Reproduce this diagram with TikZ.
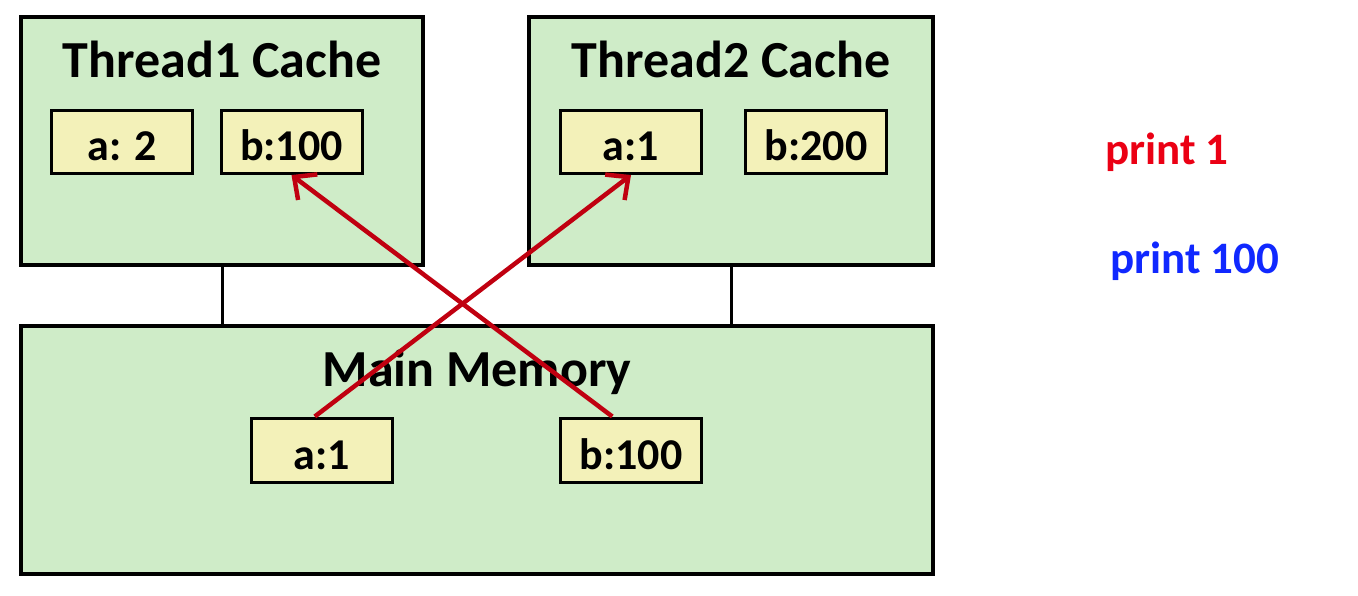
\documentclass[tikz,border=0pt]{standalone}
\usepackage{fontspec}
\setmainfont{Carlito}
\usetikzlibrary{arrows.meta,calc}
\definecolor{boxgreen}{RGB}{207,236,200}
\definecolor{boxyellow}{RGB}{243,241,185}
\definecolor{arrowred}{RGB}{192,0,16}
\definecolor{txtred}{RGB}{235,0,20}
\definecolor{txtblue}{RGB}{16,40,255}
\tikzset{
  bigbox/.style={draw=black, fill=boxgreen, line width=4bp, inner sep=0pt, minimum width=#1, minimum height=248bp},
  valbox/.style={draw=black, fill=boxyellow, line width=3bp, inner sep=0pt, minimum width=141bp, minimum height=63bp},
  title/.style={font=\fontsize{52bp}{62bp}\selectfont\bfseries, anchor=base, inner sep=0pt},
  valtext/.style={font=\fontsize{44bp}{52bp}\selectfont\bfseries, anchor=base, inner sep=0pt},
  printtext/.style={font=\fontsize{45bp}{54bp}\selectfont\bfseries, anchor=base west, inner sep=0pt},
  link/.style={draw=black, line width=3bp},
  flow/.style={draw=arrowred, line width=4.5bp, -{Straight Barb[length=17bp,width=32bp]}}
}
\begin{document}
\begin{tikzpicture}[x=1bp,y=-1bp]
\useasboundingbox (0,0) rectangle (1358,596);
% big boxes
\node[bigbox=402bp] (t1) at (222,141) {};
\node[bigbox=404bp] (t2) at (731,141) {};
\node[bigbox=912bp] (mm) at (477,450) {};
% links
\draw[link] (t1.south) -- (t1.south |- mm.north);
\draw[link] (t2.south) -- (t2.south |- mm.north);
% titles
\node[title] (t1title) at (222,78) {Thread1 Cache};
\node[title] (t2title) at (731,78) {Thread2 Cache};
\node[title] (mmtitle) at (477,386) {Main Memory};
% value boxes
\node[valbox] (t1a) at (122,142) {};
\node[valbox] (t1b) at (291.5,142) {};
\node[valbox] (t2a) at (631,142) {};
\node[valbox] (t2b) at (816,142) {};
\node[valbox, minimum height=64bp] (ma) at (322,450) {};
\node[valbox, minimum height=64bp] (mb) at (631,450) {};
\node[valtext] (t1at) at (122,161) {a: 2};
\node[valtext] (t1bt) at (291.5,161) {b:100};
\node[valtext] (t2at) at (631,161) {a:1};
\node[valtext] (t2bt) at (816,161) {b:200};
\node[valtext] (mat) at (322,469) {a:1};
\node[valtext] (mbt) at (631,469) {b:100};
% arrows
\draw[flow] ($(ma.north west)!0.45!(ma.north east)$) -- (t2a.south);
\draw[flow] ($(mb.north west)!0.37!(mb.north east)$) -- (t1b.south);
% print labels
\node[printtext, text=txtred] (p1) at (1105,165) {print 1};
\node[printtext, text=txtblue] (p2) at (1110,273) {print 100};
\end{tikzpicture}
\end{document}
